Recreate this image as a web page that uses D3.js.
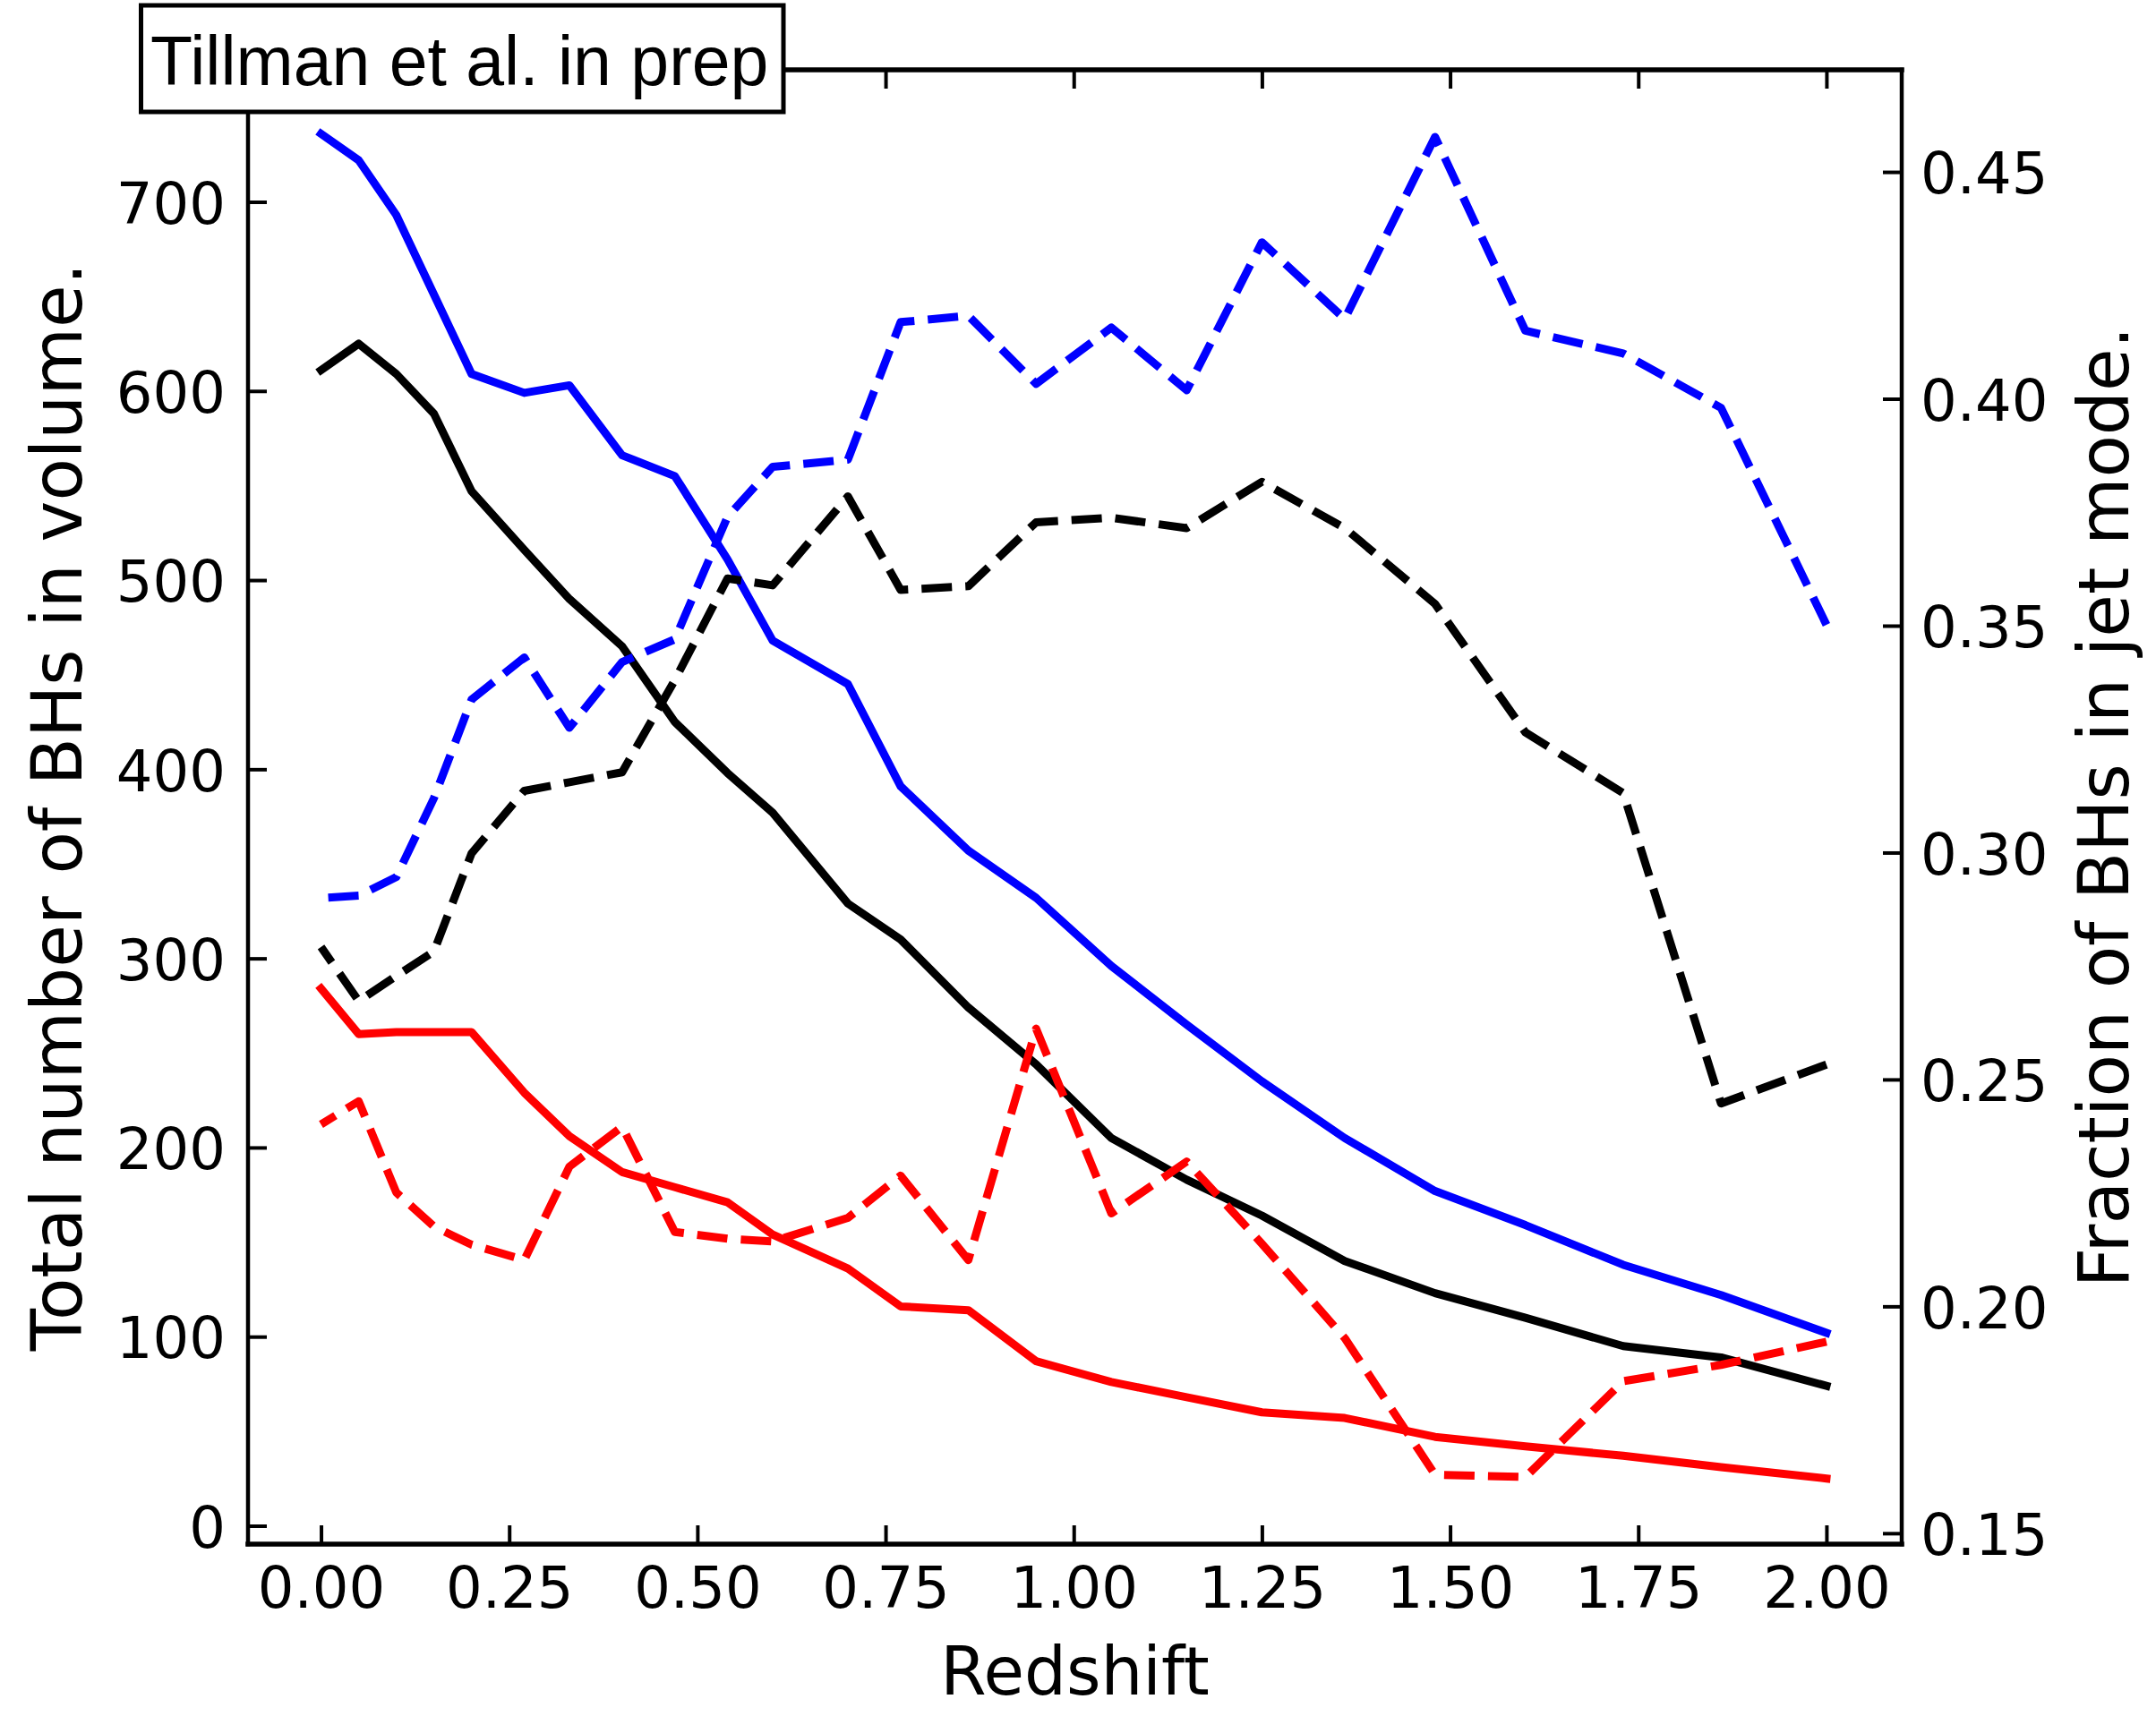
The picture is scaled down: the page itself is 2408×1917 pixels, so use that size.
<!DOCTYPE html>
<html>
<head>
<meta charset="utf-8">
<script src="https://cdn.jsdelivr.net/npm/d3@7"></script>
<style>
  html, body { margin: 0; padding: 0; background: #ffffff; }
  svg { display: block; }
</style>
</head>
<body>
<script>
// Snapshot redshifts shared by every curve
const redshift = [0.00, 0.05, 0.10, 0.15, 0.20, 0.27, 0.33, 0.40, 0.47, 0.54, 0.60, 0.70,
                  0.77, 0.86, 0.95, 1.05, 1.15, 1.25, 1.36, 1.48, 1.60, 1.73, 1.86, 2.00];

// Total number of BHs in the volume (left axis, solid lines)
const totalBlue  = [736, 722, 693, 651, 609, 599, 603, 566, 555, 511, 468, 445,
                    391, 357, 332, 296, 265, 235, 205, 177, 159, 138, 122, 102];
const totalBlack = [611, 625, 609, 588, 547, 516, 490, 465, 425, 398, 377, 329,
                    310, 274, 244, 205, 183, 164, 140, 123, 110, 95, 89, 74];
const totalRed   = [284, 260, 261, 261, 261, 229, 206, 187, 179, 171, 154, 136,
                    116, 114, 87, 76, 68, 60, 57, 47, 42, 37, 31, 25];

// Fraction of BHs in jet mode (right axis, dashed lines)
const jetBlue  = [0.290, 0.2905, 0.2946, 0.312, 0.3337, 0.343, 0.3275, 0.342, 0.347, 0.374, 0.385, 0.3866,
                  0.4169, 0.4183, 0.4033, 0.4157, 0.4019, 0.4345, 0.4176, 0.4577, 0.415, 0.410, 0.398, 0.3502];
const jetBlack = [0.2792, 0.2673, 0.2728, 0.2782, 0.2998, 0.3136, 0.3155, 0.3177, 0.338, 0.3604, 0.3589, 0.3785,
                  0.3579, 0.3587, 0.3728, 0.3738, 0.3715, 0.3817, 0.3715, 0.3548, 0.3265, 0.3131, 0.2447, 0.2533];
const jetRed   = [0.2401, 0.2452, 0.2251, 0.2176, 0.2136, 0.2102, 0.2308, 0.2396, 0.2164, 0.2149, 0.2143, 0.2195,
                  0.2288, 0.2102, 0.2612, 0.2205, 0.2319, 0.2138, 0.193, 0.1629, 0.1624, 0.1835, 0.1871, 0.1922];

// Tick values
const redshiftTicks = [0, 0.25, 0.5, 0.75, 1.0, 1.25, 1.5, 1.75, 2.0];
const countTicks    = [0, 100, 200, 300, 400, 500, 600, 700];
const fractionTicks = [0.15, 0.20, 0.25, 0.30, 0.35, 0.40, 0.45];

const W = 2408, H = 1917;
const plot = { left: 277, right: 2124, top: 78, bottom: 1725 };
const tickFont = "'DejaVu Sans', sans-serif";

const svg = d3.select("body").append("svg")
  .attr("width", W).attr("height", H)
  .attr("viewBox", `0 0 ${W} ${H}`);

svg.append("rect").attr("width", W).attr("height", H).attr("fill", "#ffffff");

const x  = d3.scaleLinear().domain([-0.097, 2.1]).range([plot.left, plot.right]);
const yL = d3.scaleLinear().domain([-9.7, 769.8]).range([plot.bottom, plot.top]);
const yR = d3.scaleLinear().domain([0.1476, 0.4725]).range([plot.bottom, plot.top]);

function styleAxis(g, tickWidth) {
  g.select(".domain").remove();
  g.attr("font-family", tickFont).attr("font-size", 64);
  g.selectAll(".tick line").attr("stroke", "#000").attr("stroke-width", tickWidth);
  g.selectAll(".tick text").attr("fill", "#000");
}

// Bottom redshift axis (ticks point inward)
svg.append("g")
  .attr("transform", `translate(0,${plot.bottom})`)
  .call(d3.axisBottom(x).tickValues(redshiftTicks).tickFormat(d3.format(".2f"))
          .tickSizeInner(-21).tickSizeOuter(0).tickPadding(26))
  .call(g => styleAxis(g, 4));

// Top axis: tick marks only
svg.append("g")
  .attr("transform", `translate(0,${plot.top})`)
  .call(d3.axisTop(x).tickValues(redshiftTicks).tickFormat("")
          .tickSizeInner(-21).tickSizeOuter(0))
  .call(g => styleAxis(g, 4));

// Left count axis
svg.append("g")
  .attr("transform", `translate(${plot.left},0)`)
  .call(d3.axisLeft(yL).tickValues(countTicks).tickFormat(d3.format("d"))
          .tickSizeInner(-21).tickSizeOuter(0).tickPadding(25))
  .call(g => styleAxis(g, 4))
  .call(g => g.selectAll(".tick text").attr("dy", "0.37em"));

// Right jet-mode fraction axis
svg.append("g")
  .attr("transform", `translate(${plot.right},0)`)
  .call(d3.axisRight(yR).tickValues(fractionTicks).tickFormat(d3.format(".2f"))
          .tickSizeInner(-21).tickSizeOuter(0).tickPadding(21))
  .call(g => styleAxis(g, 4))
  .call(g => g.selectAll(".tick text").attr("dy", "0.37em"));

// Curves: paths run from z = 2 back to z = 0, so the dash pattern starts at the high-redshift end
function drawCurve(values, yScale, color, dashed) {
  const pts = redshift.map((z, i) => [z, values[i]]).reverse();
  const line = d3.line().x(d => x(d[0])).y(d => yScale(d[1]));
  svg.append("path")
    .datum(pts)
    .attr("d", line)
    .attr("fill", "none")
    .attr("stroke", color)
    .attr("stroke-width", 9)
    .attr("stroke-linejoin", "round")
    .attr("stroke-linecap", dashed ? "butt" : "square")
    .attr("stroke-dasharray", dashed ? "34,15" : null);
}

drawCurve(totalBlue,  yL, "#0000ff", false);
drawCurve(totalBlack, yL, "#000000", false);
drawCurve(totalRed,   yL, "#ff0000", false);
drawCurve(jetBlue,    yR, "#0000ff", true);
drawCurve(jetBlack,   yR, "#000000", true);
drawCurve(jetRed,     yR, "#ff0000", true);

// Frame
const spines = svg.append("g").attr("stroke", "#000").attr("stroke-linecap", "square");
spines.append("line").attr("x1", plot.left).attr("x2", plot.right)
  .attr("y1", plot.top).attr("y2", plot.top).attr("stroke-width", 5.5);
spines.append("line").attr("x1", plot.left).attr("x2", plot.right)
  .attr("y1", plot.bottom).attr("y2", plot.bottom).attr("stroke-width", 5.5);
spines.append("line").attr("x1", plot.left).attr("x2", plot.left)
  .attr("y1", plot.top).attr("y2", plot.bottom).attr("stroke-width", 4.5);
spines.append("line").attr("x1", plot.right).attr("x2", plot.right)
  .attr("y1", plot.top).attr("y2", plot.bottom).attr("stroke-width", 4.5);

// Axis titles
svg.append("text")
  .attr("x", (plot.left + plot.right) / 2).attr("y", 1893)
  .attr("text-anchor", "middle")
  .attr("font-family", tickFont).attr("font-size", 74)
  .text("Redshift");

svg.append("text")
  .attr("transform", `translate(91,${(plot.top + plot.bottom) / 2}) rotate(-90)`)
  .attr("text-anchor", "middle")
  .attr("font-family", tickFont).attr("font-size", 77.5)
  .text("Total number of BHs in volume.");

svg.append("text")
  .attr("transform", `translate(2377,${(plot.top + plot.bottom) / 2}) rotate(-90)`)
  .attr("text-anchor", "middle")
  .attr("font-family", tickFont).attr("font-size", 77.5)
  .text("Fraction of BHs in jet mode.");

// Attribution box over the top-left corner
svg.append("rect")
  .attr("x", 157.5).attr("y", 6).attr("width", 717.5).attr("height", 119)
  .attr("fill", "#ffffff").attr("stroke", "#000").attr("stroke-width", 5);
svg.append("text")
  .attr("x", 168).attr("y", 94.6)
  .attr("font-family", "'Liberation Sans', Arial, sans-serif").attr("font-size", 77)
  .text("Tillman et al. in prep");
</script>
</body>
</html>
